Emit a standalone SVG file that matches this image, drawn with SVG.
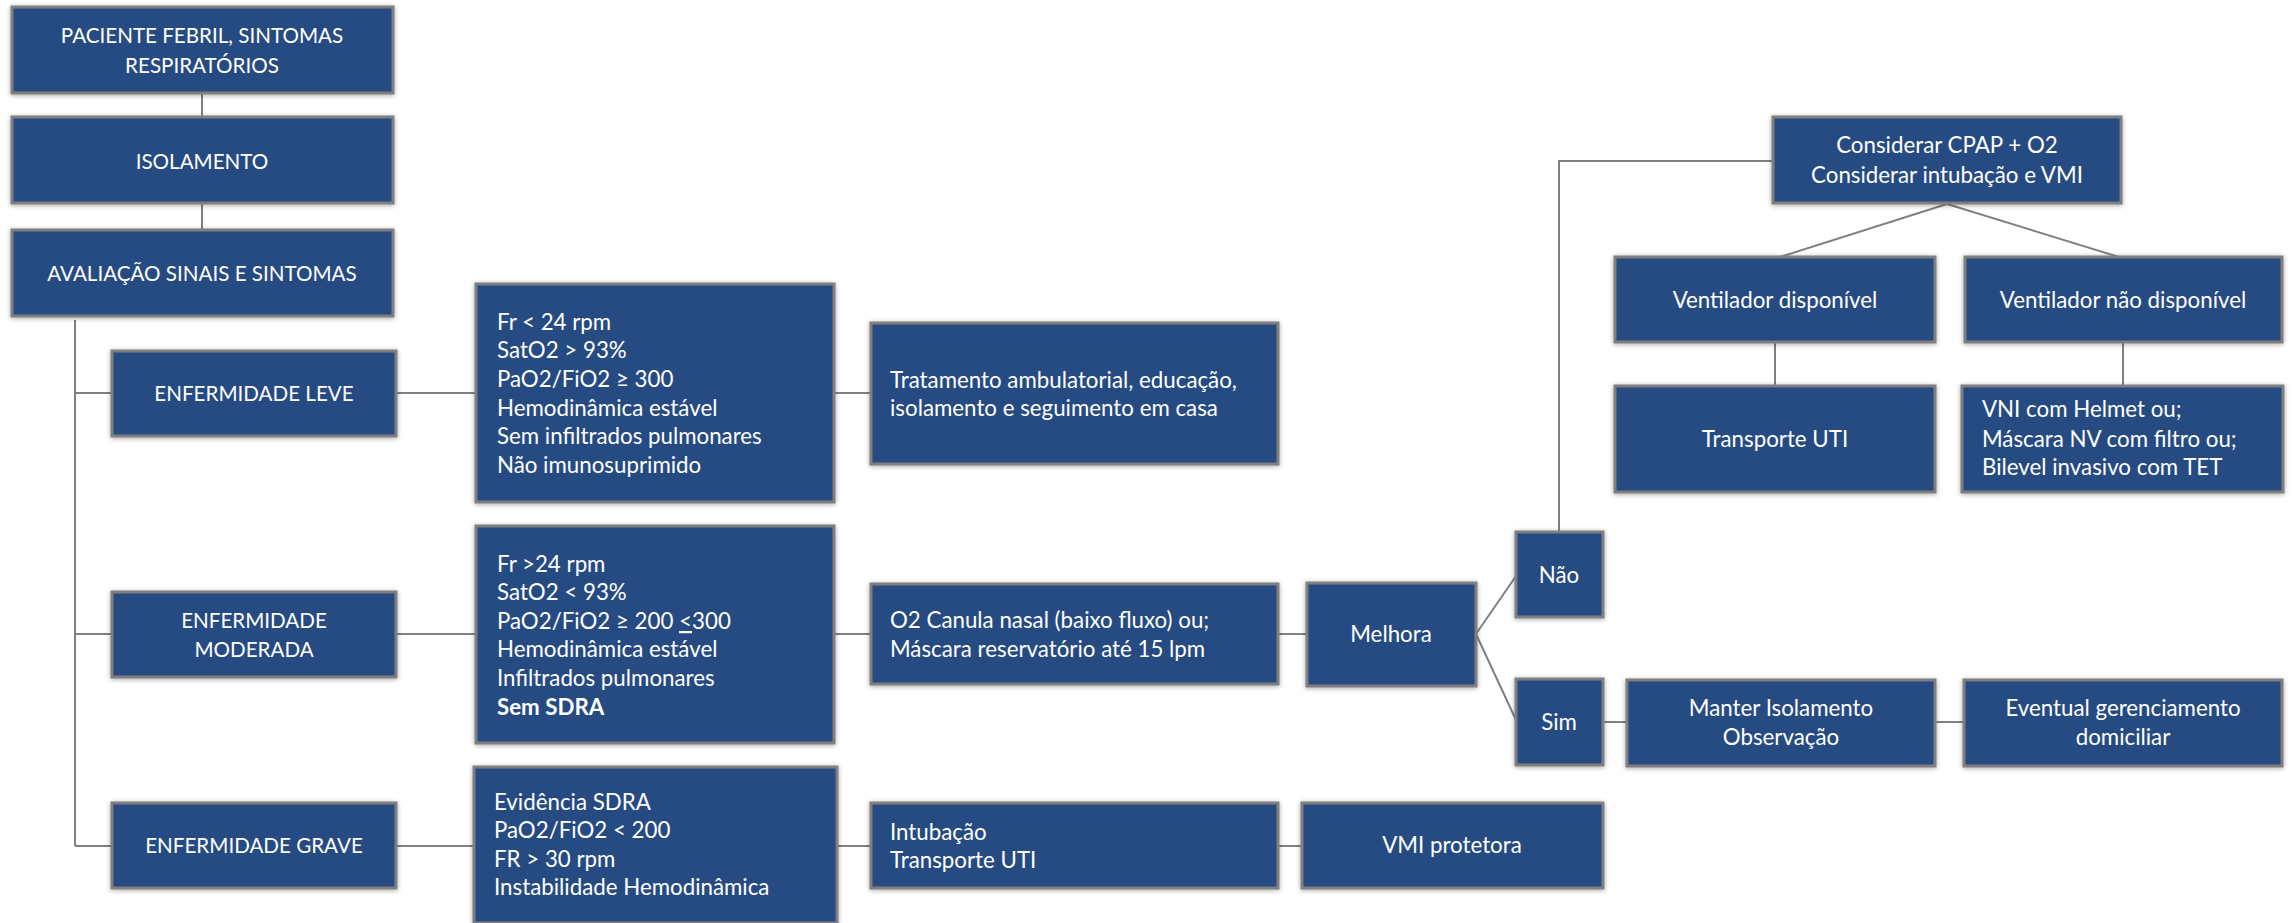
<svg xmlns="http://www.w3.org/2000/svg" width="2292" height="923" viewBox="0 0 2292 923">
<defs>
<filter id="sh" x="-10%" y="-10%" width="120%" height="120%">
<feGaussianBlur in="SourceAlpha" stdDeviation="2.5"/>
<feOffset dx="0" dy="1" result="b"/>
<feComponentTransfer><feFuncA type="linear" slope="0.35"/></feComponentTransfer>
<feMerge><feMergeNode/><feMergeNode in="SourceGraphic"/></feMerge>
</filter>
<style>
.box{fill:#264B82;stroke:#7F7F7F;stroke-width:3;filter:url(#sh)}
.t{font-family:Lato,"Liberation Sans",sans-serif;font-size:22.3px;fill:#FFFFFF}
.u{font-size:20.6px}
.c{text-anchor:middle}
.ln{stroke:#808080;stroke-width:2;fill:none}
</style>
</defs>
<rect width="2292" height="923" fill="#FFFFFF"/>
<g id="connectors">
<path class="ln" d="M202,93 V117 M202,203 V230"/>
<path class="ln" d="M75,320 V846 M75,393 H112 M75,634 H112 M75,846 H112"/>
<path class="ln" d="M396,393 H476 M834,393 H871"/>
<path class="ln" d="M396,634 H476 M834,634 H871 M1278,634 H1307"/>
<path class="ln" d="M396,846 H474 M837,846 H871 M1278,846 H1302"/>
<path class="ln" d="M1476,634 L1516,576 M1476,634 L1516,720"/>
<path class="ln" d="M1603,722 H1627 M1935,722 H1964"/>
<path class="ln" d="M1559,532 V161 H1773"/>
<path class="ln" d="M1947,204 L1780,257 M1947,204 L2119,257"/>
<path class="ln" d="M1775,342 V386 M2123,342 V386"/>
</g>
<g id="n-paciente"><rect class="box" x="12" y="7" width="381" height="86"/>
<text class="t u c" x="202" y="43">PACIENTE FEBRIL, SINTOMAS</text>
<text class="t u c" x="202" y="73">RESPIRATÓRIOS</text></g>
<g id="n-isolamento"><rect class="box" x="12" y="117" width="381" height="86"/>
<text class="t u c" x="202" y="169">ISOLAMENTO</text></g>
<g id="n-avaliacao"><rect class="box" x="12" y="230" width="381" height="86"/>
<text class="t u c" x="202" y="281">AVALIAÇÃO SINAIS E SINTOMAS</text></g>
<g id="n-leve"><rect class="box" x="112" y="351" width="284" height="85"/>
<text class="t u c" x="254" y="401">ENFERMIDADE LEVE</text></g>
<g id="n-moderada"><rect class="box" x="112" y="592" width="284" height="85"/>
<text class="t u c" x="254" y="628">ENFERMIDADE</text>
<text class="t u c" x="254" y="657">MODERADA</text></g>
<g id="n-grave"><rect class="box" x="112" y="803" width="284" height="85"/>
<text class="t u c" x="254" y="853">ENFERMIDADE GRAVE</text></g>
<g id="n-crit-leve"><rect class="box" x="476" y="284" width="358" height="218"/>
<text class="t" x="497" y="330">Fr &lt; 24 rpm</text>
<text class="t" x="497" y="358">SatO2 &gt; 93%</text>
<text class="t" x="497" y="387">PaO2/FiO2 ≥ 300</text>
<text class="t" x="497" y="416">Hemodinâmica estável</text>
<text class="t" x="497" y="444">Sem infiltrados pulmonares</text>
<text class="t" x="497" y="473">Não imunosuprimido</text></g>
<g id="n-crit-moderada"><rect class="box" x="476" y="526" width="358" height="217"/>
<text class="t" x="497" y="572">Fr &gt;24 rpm</text>
<text class="t" x="497" y="600">SatO2 &lt; 93%</text>
<text class="t" x="497" y="629">PaO2/FiO2 ≥ 200 <tspan text-decoration="underline">&lt;</tspan>300</text>
<text class="t" x="497" y="657">Hemodinâmica estável</text>
<text class="t" x="497" y="686">Infiltrados pulmonares</text>
<text class="t" x="497" y="715" font-weight="bold">Sem SDRA</text></g>
<g id="n-crit-grave"><rect class="box" x="474" y="767" width="363" height="156"/>
<text class="t" x="494" y="810">Evidência SDRA</text>
<text class="t" x="494" y="838">PaO2/FiO2 &lt; 200</text>
<text class="t" x="494" y="867">FR &gt; 30 rpm</text>
<text class="t" x="494" y="895">Instabilidade Hemodinâmica</text></g>
<g id="n-tratamento"><rect class="box" x="871" y="323" width="407" height="141"/>
<text class="t" x="890" y="388">Tratamento ambulatorial, educação,</text>
<text class="t" x="890" y="416">isolamento e seguimento em casa</text></g>
<g id="n-o2"><rect class="box" x="871" y="584" width="407" height="100"/>
<text class="t" x="890" y="628">O2 Canula nasal (baixo fluxo) ou;</text>
<text class="t" x="890" y="657">Máscara reservatório até 15 lpm</text></g>
<g id="n-intubacao"><rect class="box" x="871" y="803" width="407" height="85"/>
<text class="t" x="890" y="840">Intubação</text>
<text class="t" x="890" y="868">Transporte UTI</text></g>
<g id="n-melhora"><rect class="box" x="1307" y="583" width="169" height="103"/>
<text class="t c" x="1391" y="642">Melhora</text></g>
<g id="n-vmi"><rect class="box" x="1302" y="803" width="301" height="85"/>
<text class="t c" x="1452" y="853">VMI protetora</text></g>
<g id="n-nao"><rect class="box" x="1516" y="532" width="87" height="85"/>
<text class="t c" x="1559" y="583">Não</text></g>
<g id="n-sim"><rect class="box" x="1516" y="679" width="87" height="86"/>
<text class="t c" x="1559" y="730">Sim</text></g>
<g id="n-manter"><rect class="box" x="1627" y="680" width="308" height="86"/>
<text class="t c" x="1781" y="716">Manter Isolamento</text>
<text class="t c" x="1781" y="745">Observação</text></g>
<g id="n-eventual"><rect class="box" x="1964" y="680" width="318" height="86"/>
<text class="t c" x="2123" y="716">Eventual gerenciamento</text>
<text class="t c" x="2123" y="745">domiciliar</text></g>
<g id="n-considerar"><rect class="box" x="1773" y="117" width="348" height="86"/>
<text class="t c" x="1947" y="153">Considerar CPAP + O2</text>
<text class="t c" x="1947" y="183">Considerar intubação e VMI</text></g>
<g id="n-vent-disp"><rect class="box" x="1615" y="257" width="320" height="85"/>
<text class="t c" x="1775" y="308">Ventilador disponível</text></g>
<g id="n-vent-nao"><rect class="box" x="1965" y="257" width="317" height="85"/>
<text class="t c" x="2123" y="308">Ventilador não disponível</text></g>
<g id="n-transporte"><rect class="box" x="1615" y="386" width="320" height="106"/>
<text class="t c" x="1775" y="447">Transporte UTI</text></g>
<g id="n-vni"><rect class="box" x="1962" y="386" width="321" height="106"/>
<text class="t" x="1982" y="417">VNI com Helmet ou;</text>
<text class="t" x="1982" y="447">Máscara NV com filtro ou;</text>
<text class="t" x="1982" y="475">Bilevel invasivo com TET</text></g>
</svg>
